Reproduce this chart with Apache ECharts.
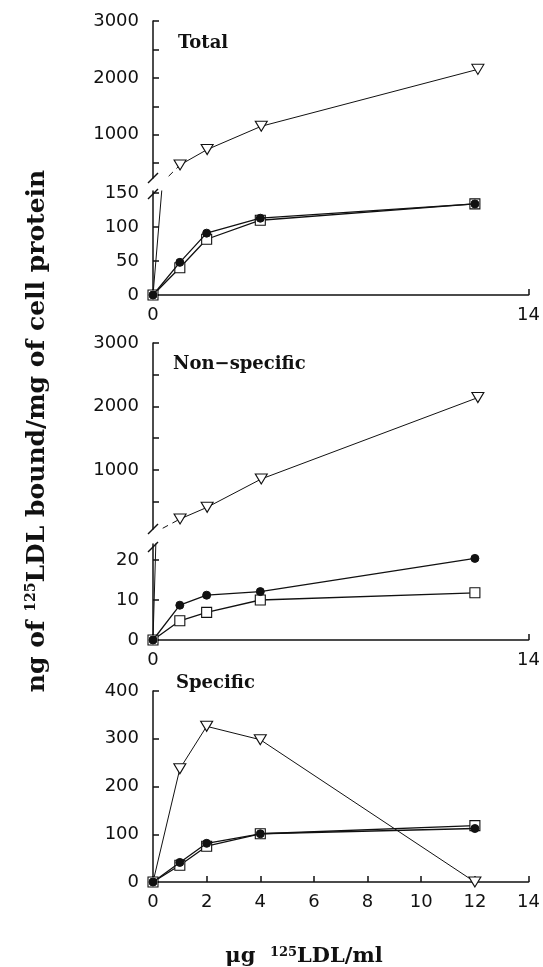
<!DOCTYPE html>
<html>
<head>
<meta charset="utf-8">
<script src="https://cdn.jsdelivr.net/npm/echarts@6/dist/echarts.min.js"></script>
<style>
  html, body { margin: 0; padding: 0; background: #fff; }
  #chart { width: 543px; height: 967px; }
</style>
</head>
<body>
<div id="chart"></div>
<script>
// LDL concentration in the medium (µg/ml)
const concentration = [0, 1, 2, 4, 12];

// Total binding (ng / mg cell protein)
const totalOpenTriangle = [0, 470, 740, 1150, 2150];
const totalFilledCircle = [0, 48, 91, 113, 134];
const totalOpenSquare = [0, 40, 82, 110, 134];

// Non-specific binding
const nonSpecOpenTriangle = [0, 228, 412, 858, 2140];
const nonSpecFilledCircle = [0, 8.7, 11.2, 12.1, 20.4];
const nonSpecOpenSquare = [0, 4.8, 6.9, 10, 11.8];

// Specific binding
const specOpenTriangle = [0, 237, 326, 298, 0];
const specFilledCircle = [0, 41, 81, 101, 112];
const specOpenSquare = [0, 35, 75, 101, 118];

// Tick positions and labels
const endXTicks = [0, 14];
const fullXTicks = [0, 2, 4, 6, 8, 10, 12, 14];
const upperYTicks = [500, 1000, 1500, 2000, 2500, 3000];
const upperYLabels = [1000, 2000, 3000];
const totalLowerYTicks = [0, 50, 100, 150];
const nonSpecLowerYTicks = [0, 10, 20];
const specYTicks = [0, 100, 200, 300, 400];

// ---- layout ----
const LEFT = 153, RIGHT_EDGE = 532;
const INK = '#111';
const grids = [
  { top: 21,  height: 157 }, // total, upper part
  { top: 191, height: 104 }, // total, lower part
  { top: 343, height: 186 }, // non-specific, upper part
  { top: 544, height: 96 },  // non-specific, lower part
  { top: 691, height: 191 }  // specific
].map(g => Object.assign({ left: LEFT, width: RIGHT_EDGE - LEFT, containLabel: false }, g));

const tickFont = { color: INK, fontFamily: 'DejaVu Sans', fontSize: 18, formatter: v => String(v) };

function xAxis(gridIndex, show, ticks, labels) {
  return {
    type: 'value', gridIndex, min: 0, max: 14,
    show,
    axisLine: { show: true, lineStyle: { color: INK, width: 1.5 } },
    axisTick: { show: true, inside: true, length: 6, customValues: ticks, lineStyle: { color: INK, width: 1.5 } },
    axisLabel: Object.assign({ customValues: labels, margin: 11 }, tickFont),
    splitLine: { show: false }
  };
}
function yAxis(gridIndex, min, max, ticks, labels) {
  return {
    type: 'value', gridIndex, min, max,
    axisLine: { show: true, lineStyle: { color: INK, width: 1.5 } },
    axisTick: { show: true, inside: true, length: 6, customValues: ticks, lineStyle: { color: INK, width: 1.5 } },
    axisLabel: Object.assign({ customValues: labels, margin: 14 }, tickFont),
    splitLine: { show: false }
  };
}

function pts(ys, from, to) {
  const out = [];
  for (let i = from; i <= to; i++) out.push([concentration[i], ys[i]]);
  return out;
}

const triStyle = {
  symbol: 'triangle', symbolRotate: 180, symbolSize: [12, 10],
  itemStyle: { color: '#fff', borderColor: INK, borderWidth: 1.1 },
  lineStyle: { color: INK, width: 1 }
};
const circStyle = {
  symbol: 'circle', symbolSize: 8,
  itemStyle: { color: INK, borderColor: INK, borderWidth: 1 },
  lineStyle: { color: INK, width: 1.3 }
};
const sqStyle = {
  symbol: 'rect', symbolSize: 10,
  itemStyle: { color: '#fff', borderColor: INK, borderWidth: 1.1 },
  lineStyle: { color: INK, width: 1.3 }
};

function line(idx, data, style, extra) {
  return Object.assign({
    type: 'line', xAxisIndex: idx, yAxisIndex: idx, data,
    showAllSymbol: true, animation: false, clip: true, z: 3
  }, style, extra || {});
}
// the origin point carries no marker of its own (the filled markers sit there)
function withBareOrigin(data) {
  return data.map((d, i) => i === 0 ? { value: d, symbol: 'none' } : d);
}

const series = [
  // Total: upper part (open triangles)
  line(0, pts(totalOpenTriangle, 0, 1), { symbol: 'none', lineStyle: { color: INK, width: 1, type: [6, 5] } }),
  line(0, pts(totalOpenTriangle, 1, 4), triStyle),
  // Total: lower part
  line(1, pts(totalOpenTriangle, 0, 1), { symbol: 'none', lineStyle: { color: INK, width: 1 } }),
  line(1, pts(totalOpenSquare, 0, 4), sqStyle),
  line(1, pts(totalFilledCircle, 0, 4), circStyle, { z: 4 }),
  // Non-specific: upper part
  line(2, pts(nonSpecOpenTriangle, 0, 1), { symbol: 'none', lineStyle: { color: INK, width: 1, type: [6, 5] } }),
  line(2, pts(nonSpecOpenTriangle, 1, 4), triStyle),
  // Non-specific: lower part
  line(3, pts(nonSpecOpenTriangle, 0, 1), { symbol: 'none', lineStyle: { color: INK, width: 1 } }),
  line(3, pts(nonSpecOpenSquare, 0, 4), sqStyle),
  line(3, pts(nonSpecFilledCircle, 0, 4), circStyle, { z: 4 }),
  // Specific
  line(4, withBareOrigin(pts(specOpenTriangle, 0, 4)), triStyle),
  line(4, pts(specOpenSquare, 0, 4), sqStyle),
  line(4, pts(specFilledCircle, 0, 4), circStyle, { z: 4 })
];

// short diagonal strokes marking the broken y-axes
function breakMark(cx, cy) {
  return { type: 'line', shape: { x1: cx - 5, y1: cy + 5, x2: cx + 5, y2: cy - 5 },
           style: { stroke: INK, lineWidth: 1.5 }, z: 10 };
}
const panelTitle = (text, x, y) => ({
  type: 'text', x, y, z: 10,
  style: { text, fill: INK, font: 'bold 18px "DejaVu Serif"', verticalAlign: 'middle' }
});
const supRich = (size, lift) => ({
  sup: { font: 'bold ' + size + 'px "DejaVu Serif"', fill: INK, verticalAlign: 'top', lineHeight: size, padding: [0, 0, lift, 0] }
});

const graphic = [
  panelTitle('Total', 178, 43),
  panelTitle('Non\u2212specific', 173, 364),
  panelTitle('Specific', 176, 683),
  breakMark(LEFT, grids[0].top + grids[0].height),
  breakMark(LEFT, grids[1].top + 3),
  breakMark(LEFT, grids[2].top + grids[2].height),
  breakMark(LEFT, grids[3].top + 3),
  {
    type: 'text', x: 37, y: 431, rotation: Math.PI / 2, z: 10,
    style: {
      text: 'ng of {sup|125}LDL bound/mg of cell protein',
      fill: INK, font: 'bold 25px "DejaVu Serif"',
      align: 'center', verticalAlign: 'middle',
      rich: supRich(14, 19)
    }
  },
  {
    type: 'text', x: 304, y: 957, z: 10,
    style: {
      text: '\u03bcg  {sup|125}LDL/ml',
      fill: INK, font: 'bold 21px "DejaVu Serif"',
      align: 'center', verticalAlign: 'middle',
      rich: supRich(13, 15)
    }
  }
];

const chart = echarts.init(document.getElementById('chart'), null, { renderer: 'canvas' });
chart.setOption({
  backgroundColor: '#fff',
  animation: false,
  grid: grids,
  xAxis: [
    xAxis(0, false, endXTicks, endXTicks),
    xAxis(1, true, endXTicks, endXTicks),
    xAxis(2, false, endXTicks, endXTicks),
    xAxis(3, true, endXTicks, endXTicks),
    xAxis(4, true, fullXTicks, fullXTicks)
  ],
  yAxis: [
    yAxis(0, 240, 3000, upperYTicks, upperYLabels),
    yAxis(1, 0, 153, totalLowerYTicks, totalLowerYTicks),
    yAxis(2, 70, 3000, upperYTicks, upperYLabels),
    yAxis(3, 0, 24, nonSpecLowerYTicks, nonSpecLowerYTicks),
    yAxis(4, 0, 400, specYTicks, specYTicks)
  ],
  series,
  graphic
});
</script>
</body>
</html>
